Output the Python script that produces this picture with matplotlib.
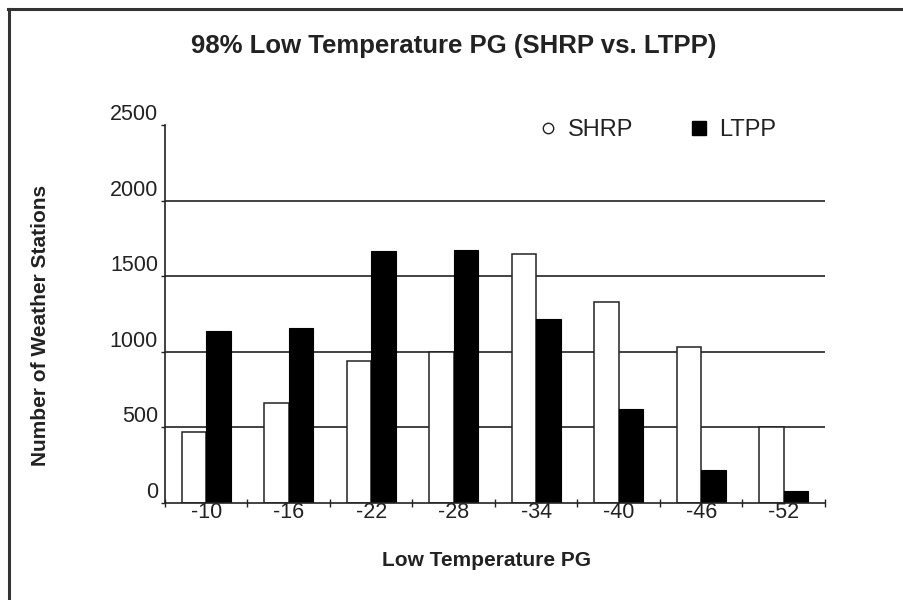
import numpy as np
import matplotlib
matplotlib.use("Agg")
import matplotlib.pyplot as plt
from matplotlib.lines import Line2D

plt.rcParams['font.family'] = ['Liberation Sans', 'DejaVu Sans']

# data
categories = ['-10', '-16', '-22', '-28', '-34', '-40', '-46', '-52']
shrp = [470, 660, 940, 1000, 1650, 1330, 1030, 505]
ltpp = [1140, 1160, 1665, 1675, 1215, 625, 220, 80]
y_ticks = [0, 500, 1000, 1500, 2000, 2500]

ink = '#222222'
x = np.arange(len(categories))
w = 0.295

fig = plt.figure(figsize=(9.04, 6.0), dpi=100)
ax = fig.add_axes([165/904, 1-503/600, 660/904, 378/600])

# gridlines only between 0 and the top
for v in y_ticks[1:-1]:
    ax.axhline(v, color=ink, lw=1.2, zorder=1)

ax.bar(x - w/2, shrp, w, color='white', edgecolor=ink, lw=1.1, zorder=2)
ax.bar(x + w/2, ltpp, w, color='black', edgecolor='black', lw=0.8, zorder=2)

ax.set_xlim(-0.5, len(categories) - 0.5)
ax.set_ylim(0, 2500)

for s in ['top', 'right']:
    ax.spines[s].set_visible(False)
for s in ['left', 'bottom']:
    ax.spines[s].set_color(ink)
    ax.spines[s].set_linewidth(1.2)

ax.set_yticks(y_ticks)
ax.set_yticklabels([str(v) for v in y_ticks], va='bottom')
ax.tick_params(axis='y', direction='out', length=3, width=1, color=ink,
               pad=2, labelsize=15.5, labelcolor=ink)

ax.set_xticks(x)
ax.set_xticklabels(categories)
ax.tick_params(axis='x', which='major', length=0, pad=-1,
               labelsize=15.5, labelcolor=ink)
ax.set_xticks(np.arange(len(categories) + 1) - 0.5, minor=True)
ax.tick_params(axis='x', which='minor', direction='inout', length=6,
               width=1, color=ink)

ax.set_ylabel('Number of Weather Stations', fontsize=15, fontweight='bold',
              color=ink, va='center')
ax.yaxis.set_label_coords((41-165)/660, (503-325)/378)
ax.set_xlabel('Low Temperature PG', fontsize=15, fontweight='bold',
              color=ink, va='center')
ax.xaxis.set_label_coords((487-165)/660, (503-560)/378)

fig.text(454/904, 1-46/600, '98% Low Temperature PG (SHRP vs. LTPP)',
         ha='center', va='center', fontsize=18.5, fontweight='bold', color=ink)

handles = [
    Line2D([], [], ls='none', marker='o', markersize=7.5, markerfacecolor='white',
           markeredgecolor=ink, markeredgewidth=1),
    Line2D([], [], ls='none', marker='s', markersize=10.5, markerfacecolor='black',
           markeredgecolor='black'),
]
ax.legend(handles, ['SHRP', 'LTPP'], ncol=2, frameon=False, fontsize=17,
          loc='upper left', bbox_to_anchor=(538.6/904, 1-119.5/600),
          bbox_transform=fig.transFigure, borderpad=0, borderaxespad=0,
          handlelength=0.8, handletextpad=0.44, columnspacing=2.4,
          labelcolor=ink)

# page frame: top and left edges
fig.add_artist(Line2D([8/904, 1], [1-9/600, 1-9/600], color='#333333', lw=2.2,
                      transform=fig.transFigure))
fig.add_artist(Line2D([9/904, 9/904], [0, 1-9/600], color='#333333', lw=2.2,
                      transform=fig.transFigure))

fig.savefig('out.png', dpi=100)
